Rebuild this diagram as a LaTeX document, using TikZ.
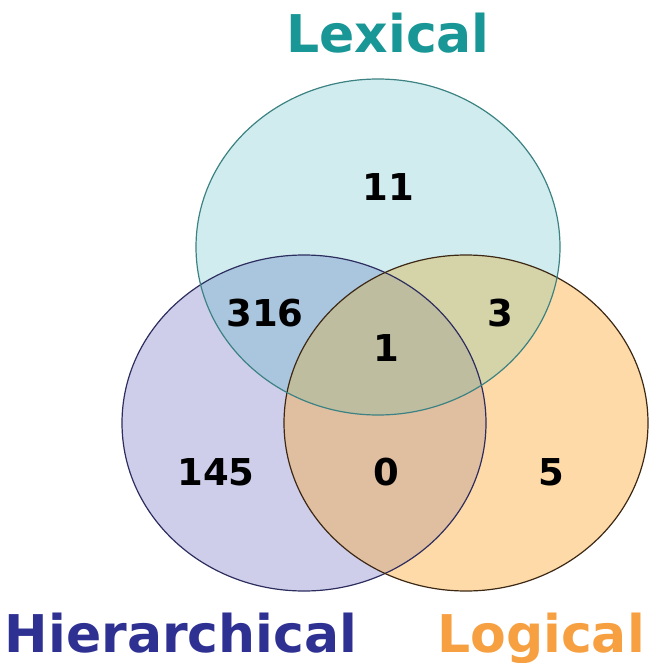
\documentclass[tikz,border=0pt]{standalone}
\usepackage{fontspec}
\setmainfont{DejaVu Sans}
\definecolor{lexfill}{RGB}{208,236,238}
\definecolor{hierfill}{RGB}{206,206,234}
\definecolor{logfill}{RGB}{253,218,168}
\definecolor{lexhier}{RGB}{170,198,222}
\definecolor{lexlog}{RGB}{213,212,168}
\definecolor{hierlog}{RGB}{224,190,160}
\definecolor{allfill}{RGB}{190,189,160}
\definecolor{lexline}{RGB}{60,130,130}
\definecolor{hierline}{RGB}{45,45,95}
\definecolor{logline}{RGB}{60,40,20}
\definecolor{lextext}{RGB}{25,150,150}
\definecolor{hiertext}{RGB}{46,49,146}
\definecolor{logtext}{RGB}{246,160,66}
\def\lexset{(378,247) ellipse [x radius=182, y radius=168]}
\def\hierset{(304,423) ellipse [x radius=182, y radius=168]}
\def\logset{(466,423) ellipse [x radius=182, y radius=168]}
\begin{document}
\begin{tikzpicture}[x=1pt,y=-1pt,
    count/.style={font=\fontsize{37}{40}\selectfont\bfseries},
    title/.style={font=\fontsize{52}{60}\selectfont\bfseries,anchor=base}]
    \useasboundingbox (0,0) rectangle (653,663);
    % single sets
    \fill [hierfill] \hierset;
    \fill [logfill] \logset;
    \fill [lexfill] \lexset;
    % overlaps
    \begin{scope}
        \clip \hierset;
        \fill [lexhier] \lexset;
        \fill [hierlog] \logset;
    \end{scope}
    \begin{scope}
        \clip \lexset;
        \fill [lexlog] \logset;
        \clip \logset;
        \fill [allfill] \hierset;
    \end{scope}
    % outlines
    \draw [hierline,line width=1.2pt] \hierset;
    \draw [logline,line width=1.2pt] \logset;
    \draw [lexline,line width=1.2pt] \lexset;
    % counts
    \node [count] (lexonly) at (388,187) {11};
    \node [count] (lexhiercount) at (265,313) {316};
    \node [count] (lexlogcount) at (500,313) {3};
    \node [count] (allcount) at (386,348) {1};
    \node [count] (hieronly) at (216,472) {145};
    \node [count] (hierlogcount) at (386,472) {0};
    \node [count] (logonly) at (551,472) {5};
    % set names
    \node [title,text=lextext] (lexname) at (388,53) {Lexical};
    \node [title,text=hiertext] (hiername) at (181,652) {Hierarchical};
    \node [title,text=logtext] (logname) at (541,652) {Logical};
\end{tikzpicture}
\end{document}
